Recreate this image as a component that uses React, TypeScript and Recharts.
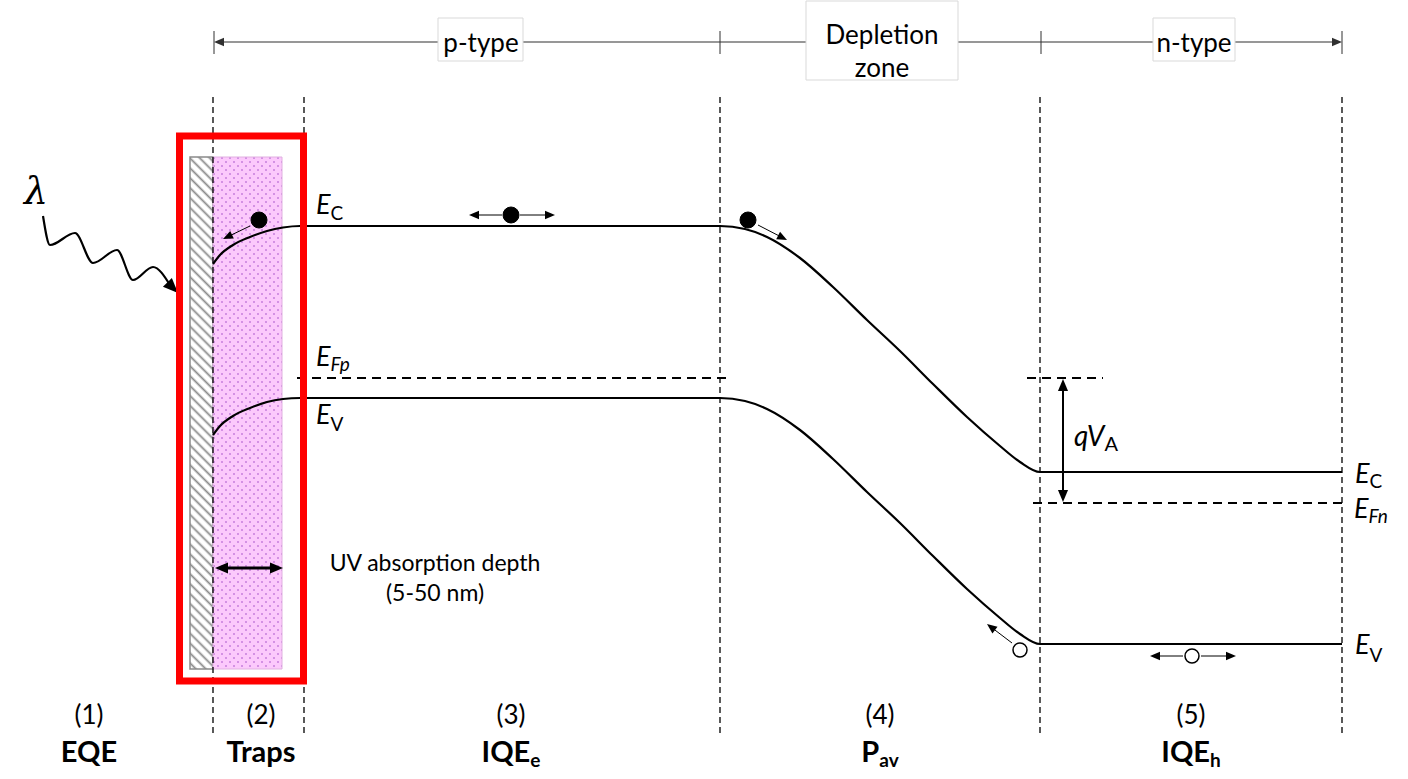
import React from 'react';
import { ComposedChart, Line, XAxis, YAxis, ReferenceLine, ReferenceArea, ReferenceDot } from 'recharts';

const W = 1408;
const H = 779;
const FONT = 'Lato, "Open Sans", sans-serif';

// Conduction band (x = position along device, y = energy drawn downward)
const ecBand = [
  { x: 213, y: 264 }, { x: 220, y: 255 }, { x: 233, y: 245 }, { x: 250, y: 237 },
  { x: 267, y: 231 }, { x: 283, y: 227.5 }, { x: 300, y: 226 }, { x: 720, y: 226 },
  { x: 745, y: 229 }, { x: 767, y: 237 }, { x: 800, y: 258 }, { x: 833, y: 287 },
  { x: 867, y: 320 }, { x: 900, y: 351 }, { x: 933, y: 384 }, { x: 967, y: 417 },
  { x: 1000, y: 446 }, { x: 1020, y: 462 }, { x: 1040, y: 472 }, { x: 1342, y: 472 },
];
// Valence band
const evBand = [
  { x: 213, y: 435 }, { x: 220, y: 426 }, { x: 233, y: 416 }, { x: 250, y: 408 },
  { x: 267, y: 402 }, { x: 283, y: 399 }, { x: 300, y: 398 }, { x: 720, y: 398 },
  { x: 745, y: 401 }, { x: 767, y: 409 }, { x: 800, y: 430 }, { x: 833, y: 459 },
  { x: 867, y: 492 }, { x: 900, y: 523 }, { x: 933, y: 556 }, { x: 967, y: 589 },
  { x: 1000, y: 618 }, { x: 1020, y: 634 }, { x: 1040, y: 644 }, { x: 1342, y: 644 },
];
// Incoming photon (wavy arrow)
const photonWave = [
  { x: 43, y: 216 }, { x: 50, y: 245 }, { x: 75, y: 233 }, { x: 93, y: 263 },
  { x: 117, y: 250 }, { x: 133, y: 280 }, { x: 153, y: 267 }, { x: 170, y: 285 },
];

// Fermi levels
const efpLevel = { x1: 297, x2: 730, y: 378 };
const efnLevel = { x1: 1033, x2: 1347, y: 503 };
const qvaTop = { x1: 1027, x2: 1103, y: 378 };

const regionDividers = [213, 304, 720, 1040, 1342];
const topTicks = [214, 720, 1041, 1342];

const topLabels = [
  { lines: ['p-type'], box: [438, 523, 18, 61], cx: 481, baselines: [52] },
  { lines: ['Depletion', 'zone'], box: [806, 958, 1, 80], cx: 882, baselines: [44, 77] },
  { lines: ['n-type'], box: [1153, 1235, 18, 61], cx: 1194, baselines: [52] },
];

const regionNumbers = ['(1)', '(2)', '(3)', '(4)', '(5)'];
const regionNames = [
  { main: 'EQE', sub: '' },
  { main: 'Traps', sub: '' },
  { main: 'IQE', sub: 'e' },
  { main: 'P', sub: 'av' },
  { main: 'IQE', sub: 'h' },
];
const regionCenters = [89, 261, 511, 880, 1191];

const bandLabels = [
  { main: 'E', sub: 'C', subItalic: false, x: 316, y: 214, subDy: 6 },
  { main: 'E', sub: 'Fp', subItalic: true, x: 316, y: 366, subDy: 5 },
  { main: 'E', sub: 'V', subItalic: false, x: 316, y: 424, subDy: 7 },
  { main: 'E', sub: 'C', subItalic: false, x: 1355, y: 483, subDy: 5 },
  { main: 'E', sub: 'Fn', subItalic: true, x: 1354, y: 518, subDy: 5 },
  { main: 'E', sub: 'V', subItalic: false, x: 1355, y: 654, subDy: 8 },
];
const qvaLabel = { main: 'qV', sub: 'A', x: 1074, y: 446, subDy: 5 };

const electrons = [{ x: 259, y: 220 }, { x: 511, y: 215 }, { x: 748, y: 220 }];
const holes = [{ x: 1020, y: 650 }, { x: 1192, y: 656 }];

type Arrow = { from: [number, number]; to: [number, number]; heads: 'end' | 'both'; size: number; w: number; color?: string };
const arrows: Arrow[] = [
  { from: [250, 226], to: [223, 239], heads: 'end', size: 10, w: 1 },
  { from: [502, 215], to: [469, 215], heads: 'end', size: 10, w: 1 },
  { from: [520, 215], to: [555, 215], heads: 'end', size: 10, w: 1 },
  { from: [758, 225], to: [787, 240], heads: 'end', size: 10, w: 1 },
  { from: [1012, 643], to: [987, 624], heads: 'end', size: 10, w: 1 },
  { from: [1183, 656], to: [1150, 656], heads: 'end', size: 10, w: 1 },
  { from: [1201, 656], to: [1236, 656], heads: 'end', size: 10, w: 1 },
  { from: [215, 568], to: [283, 568], heads: 'both', size: 13, w: 3 },
  { from: [1063, 379], to: [1063, 502], heads: 'both', size: 12, w: 2 },
];

function head(x1: number, y1: number, x2: number, y2: number, size: number) {
  const dx = x2 - x1;
  const dy = y2 - y1;
  const len = Math.sqrt(dx * dx + dy * dy) || 1;
  const ux = dx / len;
  const uy = dy / len;
  const bx = x2 - ux * size;
  const by = y2 - uy * size;
  const hw = size * 0.42;
  return `${x2},${y2} ${bx - uy * hw},${by + ux * hw} ${bx + uy * hw},${by - ux * hw}`;
}

const ArrowShape = (p: any) => {
  const { x1, y1, x2, y2, heads, size, w, color } = p;
  const c = color || '#000';
  const dx = x2 - x1;
  const dy = y2 - y1;
  const len = Math.sqrt(dx * dx + dy * dy) || 1;
  const ux = dx / len;
  const uy = dy / len;
  const ex = x2 - ux * size * 0.8;
  const ey = y2 - uy * size * 0.8;
  const sx = heads === 'both' ? x1 + ux * size * 0.8 : x1;
  const sy = heads === 'both' ? y1 + uy * size * 0.8 : y1;
  return (
    <g>
      <line x1={sx} y1={sy} x2={ex} y2={ey} stroke={c} strokeWidth={w} />
      <polygon points={head(x1, y1, x2, y2, size)} fill={c} />
      {heads === 'both' && <polygon points={head(x2, y2, x1, y1, size)} fill={c} />}
    </g>
  );
};

const WaveHead = (p: any) => <polygon points={head(p.cx - 8, p.cy - 8, p.cx, p.cy, 15)} fill="#000" />;

const PlainText = (p: any) => (
  <text x={p.cx} y={p.cy} textAnchor={p.anchor || 'middle'} fontFamily={p.family || FONT} fontSize={p.size}
    fontWeight={p.bold ? 700 : 400} fontStyle={p.italic ? 'italic' : 'normal'} fill="#000">
    {p.text}
  </text>
);

const SubText = (p: any) => (
  <text x={p.cx} y={p.cy} textAnchor={p.anchor || 'start'} fontFamily={FONT} fontSize={p.size}
    fontWeight={p.bold ? 700 : 400} fill="#000">
    <tspan fontStyle={p.italic ? 'italic' : 'normal'}>{p.main}</tspan>
    {p.sub ? (
      <tspan fontSize={p.subSize} dy={p.subDy} fontStyle={p.subItalic ? 'italic' : 'normal'}>{p.sub}</tspan>
    ) : null}
  </text>
);

export default function App() {
  return (
    <div style={{ position: 'absolute', left: 0, top: 0, width: W, height: H, background: '#fff' }}>
      <ComposedChart width={W} height={H} margin={{ top: 0, right: 0, bottom: 0, left: 0 }}>
        <defs>
          <pattern id="hatch" width="7" height="7" patternUnits="userSpaceOnUse" patternTransform="rotate(-45)">
            <rect width="7" height="7" fill="#ffffff" />
            <line x1="1.5" y1="0" x2="1.5" y2="7" stroke="#8a8a8a" strokeWidth="1.8" />
          </pattern>
          <pattern id="dots" width="8" height="8" patternUnits="userSpaceOnUse">
            <rect width="8" height="8" fill="#fcc9fc" />
            <circle cx="2" cy="2" r="0.75" fill="#9a3cc0" />
            <circle cx="6" cy="6" r="0.75" fill="#9a3cc0" />
          </pattern>
        </defs>
        <XAxis dataKey="x" type="number" domain={[0, W]} hide allowDataOverflow />
        <YAxis dataKey="y" type="number" domain={[0, H]} reversed hide allowDataOverflow />

        <ReferenceArea x1={190} x2={213} y1={157} y2={669} fill="url(#hatch)" fillOpacity={1} stroke="#8a8a8a" strokeWidth={1.5} zIndex={10} />
        <ReferenceArea x1={213} x2={282} y1={157} y2={669} fill="url(#dots)" fillOpacity={1} stroke="#e0b0e0" strokeWidth={1} zIndex={10} />

        {regionDividers.map((x) => (
          <ReferenceLine key={'d' + x} segment={[{ x, y: 97 }, { x, y: 733 }]} stroke="#000" strokeWidth={1.3} strokeDasharray="6 4" zIndex={20} />
        ))}
        {[efpLevel, efnLevel, qvaTop].map((l, i) => (
          <ReferenceLine key={'f' + i} segment={[{ x: l.x1, y: l.y }, { x: l.x2, y: l.y }]} stroke="#000" strokeWidth={1.8} strokeDasharray="9 6" zIndex={20} />
        ))}

        <Line data={ecBand} dataKey="y" type="monotone" stroke="#000" strokeWidth={2.2} dot={false} activeDot={false} isAnimationActive={false} zIndex={30} />
        <Line data={evBand} dataKey="y" type="monotone" stroke="#000" strokeWidth={2.2} dot={false} activeDot={false} isAnimationActive={false} zIndex={30} />
        <Line data={photonWave} dataKey="y" type="monotone" stroke="#000" strokeWidth={2.2} dot={false} activeDot={false} isAnimationActive={false} zIndex={30} />
        <ReferenceDot x={178} y={293} r={0} shape={(p: any) => <WaveHead {...p} />} zIndex={30} />

        <ReferenceArea x1={179.5} x2={303.5} y1={136} y2={681} fill="none" stroke="#ff0000" strokeWidth={7} zIndex={40} />

        <ReferenceLine segment={[{ x: 214, y: 42 }, { x: 1342, y: 42 }]} shape={(p: any) => <ArrowShape {...p} heads="both" size={10} w={1.2} color="#303030" />} zIndex={50} />
        {topTicks.map((x) => (
          <ReferenceLine key={'t' + x} segment={[{ x, y: 31 }, { x, y: 54 }]} stroke="#303030" strokeWidth={1} zIndex={50} />
        ))}
        {topLabels.map((t, i) => (
          <ReferenceArea key={'b' + i} x1={t.box[0]} x2={t.box[1]} y1={t.box[2]} y2={t.box[3]} fill="#ffffff" fillOpacity={1} stroke="#d9d9d9" strokeWidth={1} zIndex={60} />
        ))}
        {topLabels.map((t, i) =>
          t.lines.map((s, j) => (
            <ReferenceDot key={'tl' + i + j} x={t.cx} y={t.baselines[j]} r={0} zIndex={70}
              shape={(p: any) => <PlainText {...p} text={s} size={26} />} />
          ))
        )}

        {arrows.map((a, i) => (
          <ReferenceLine key={'a' + i} segment={[{ x: a.from[0], y: a.from[1] }, { x: a.to[0], y: a.to[1] }]} zIndex={70}
            shape={(p: any) => <ArrowShape {...p} heads={a.heads} size={a.size} w={a.w} color={a.color} />} />
        ))}
        {electrons.map((e, i) => (
          <ReferenceDot key={'e' + i} x={e.x} y={e.y} r={8} fill="#000" stroke="#000" strokeWidth={1} zIndex={70} />
        ))}
        {holes.map((h, i) => (
          <ReferenceDot key={'h' + i} x={h.x} y={h.y} r={7} fill="#fff" stroke="#000" strokeWidth={1.5} zIndex={70} />
        ))}

        {bandLabels.map((b, i) => (
          <ReferenceDot key={'bl' + i} x={b.x} y={b.y} r={0} zIndex={70}
            shape={(p: any) => <SubText {...p} main={b.main} sub={b.sub} italic size={27} subSize={19} subDy={b.subDy} subItalic={b.subItalic} />} />
        ))}
        <ReferenceDot x={qvaLabel.x} y={qvaLabel.y} r={0} zIndex={70}
          shape={(p: any) => <SubText {...p} main={qvaLabel.main} sub={qvaLabel.sub} italic size={28} subSize={20} subDy={qvaLabel.subDy} />} />

        <ReferenceDot x={36} y={204} r={0} zIndex={70}
          shape={(p: any) => <PlainText {...p} text="λ" size={38} italic family='"DejaVu Serif", serif' />} />
        <ReferenceDot x={435} y={571} r={0} zIndex={70} shape={(p: any) => <PlainText {...p} text="UV absorption depth" size={23} />} />
        <ReferenceDot x={435} y={601} r={0} zIndex={70} shape={(p: any) => <PlainText {...p} text="(5-50 nm)" size={23} />} />

        {regionNumbers.map((n, i) => (
          <ReferenceDot key={'n' + i} x={regionCenters[i]} y={724} r={0} zIndex={70}
            shape={(p: any) => <PlainText {...p} text={n} size={26} />} />
        ))}
        {regionNames.map((n, i) => (
          <ReferenceDot key={'rn' + i} x={regionCenters[i]} y={762} r={0} zIndex={70}
            shape={(p: any) => <SubText {...p} anchor="middle" main={n.main} sub={n.sub} bold size={29} subSize={19} subDy={5} />} />
        ))}
      </ComposedChart>
    </div>
  );
}
